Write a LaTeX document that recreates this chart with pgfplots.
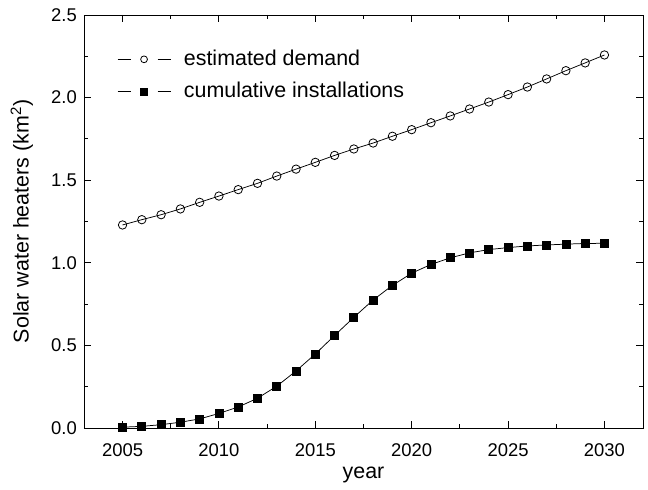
\documentclass[border=0pt]{standalone}
\usepackage{fontspec}
\setmainfont{Liberation Sans}
\usepackage{pgfplots}
\pgfplotsset{compat=1.18}
\begin{document}
\fontsize{18}{21}\selectfont
\begin{tikzpicture}
\begin{axis}[
  scale only axis,
  width=559bp, height=413bp,
  xmin=2003, xmax=2032,
  ymin=0, ymax=2.5,
  xtick={2005,2010,...,2030},
  minor xtick={2007.5,2012.5,2017.5,2022.5,2027.5},
  ytick={0,0.5,...,2.5},
  minor ytick={0.25,0.75,1.25,1.75,2.25},
  yticklabel style={/pgf/number format/fixed,/pgf/number format/fixed zerofill,/pgf/number format/precision=1,
    anchor=east, inner sep=0pt, xshift=-7bp, font=\fontsize{18.5}{21}\selectfont},
  xticklabel style={/pgf/number format/set thousands separator={}, anchor=center, inner sep=0pt, yshift=-22bp,
    font=\fontsize{18.5}{21}\selectfont},
  /pgf/number format/assume math mode=true,
  tick align=inside,
  major tick length=7bp, minor tick length=4bp,
  tick style={black, line width=0.9pt},
  axis line style={line width=0.9pt},
  xlabel={year}, ylabel={Solar water heaters (km\textsuperscript{2})},
  xlabel style={at={(axis description cs:0.5,-0.114)}, anchor=center},
  ylabel style={at={(axis description cs:-0.111,0.5)}, anchor=center},
  label style={font=\fontsize{21.5}{25}\selectfont},
  legend style={draw=none, fill=none, at={(axis description cs:0.059,0.92)}, anchor=north west,
    inner sep=0pt, font=\fontsize{21.5}{25}\selectfont, row sep=10bp,
    /tikz/every odd column/.append style={column sep=11bp}},
  legend cell align=left,
  legend image code/.code={
    \draw[#1, mark=none] (0bp,0bp) -- (13bp,0bp);
    \draw[#1, mark=none] (40bp,0bp) -- (53bp,0bp);
    \draw[#1, mark size=3.4bp] plot coordinates {(26.5bp,0bp)};
  },
]
\addplot[black, line width=0.75pt, mark=o, mark size=4.2bp, mark options={fill=white, line width=0.8pt}] coordinates {
(2005,1.229) (2006,1.261) (2007,1.291) (2008,1.326) (2009,1.366)
(2010,1.404) (2011,1.443) (2012,1.481) (2013,1.525) (2014,1.567)
(2015,1.608) (2016,1.650) (2017,1.689) (2018,1.725) (2019,1.766)
(2020,1.806) (2021,1.848) (2022,1.889) (2023,1.931) (2024,1.973)
(2025,2.018) (2026,2.064) (2027,2.113) (2028,2.163) (2029,2.210)
(2030,2.258)};
\addlegendentry{estimated demand}
\addplot[black, line width=0.75pt, mark=square*, mark size=4bp] coordinates {
(2005,0.005) (2006,0.010) (2007,0.020) (2008,0.035) (2009,0.055)
(2010,0.088) (2011,0.127) (2012,0.180) (2013,0.253) (2014,0.345)
(2015,0.448) (2016,0.560) (2017,0.670) (2018,0.775) (2019,0.863)
(2020,0.937) (2021,0.990) (2022,1.030) (2023,1.060) (2024,1.080)
(2025,1.092) (2026,1.102) (2027,1.108) (2028,1.113) (2029,1.117)
(2030,1.118)};
\addlegendentry{cumulative installations}
\end{axis}
\path (current axis.south west) ++(-84bp,-57bp);
\path (current axis.north east) ++(5bp,15bp);
\end{tikzpicture}
\end{document}
